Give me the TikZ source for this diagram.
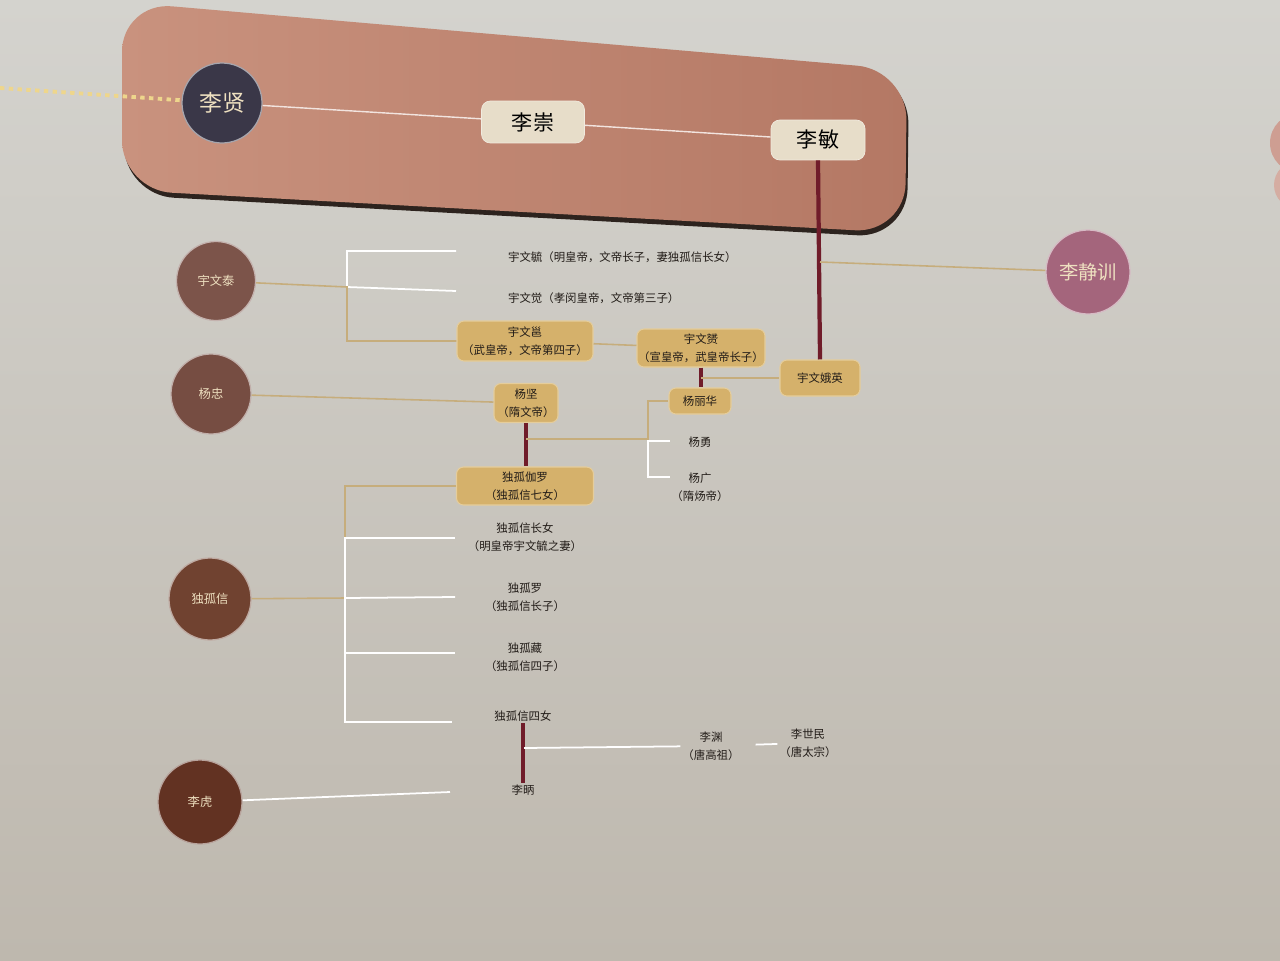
\documentclass[tikz,border=0pt]{standalone}
\usepackage{fontspec}
\setmainfont{Noto Sans CJK SC}
\definecolor{walltop}{RGB}{212,211,206}
\definecolor{wallmid}{RGB}{227,224,217}
\definecolor{wallbot}{RGB}{190,184,174}
\definecolor{bannerl}{RGB}{201,146,126}
\definecolor{bannerr}{RGB}{180,120,100}
\definecolor{shadowcol}{RGB}{45,35,30}
\definecolor{creamcol}{RGB}{231,221,201}
\definecolor{goldcol}{RGB}{213,177,107}
\definecolor{goldedge}{RGB}{229,205,155}
\definecolor{bloodcol}{RGB}{112,28,42}
\definecolor{tancol}{RGB}{198,173,124}
\definecolor{inkcol}{RGB}{34,28,24}
\definecolor{namecol}{RGB}{238,224,192}
\definecolor{lixiancol}{RGB}{58,55,72}
\definecolor{jxcol}{RGB}{164,101,124}
\definecolor{taicol}{RGB}{124,84,74}
\definecolor{zhongcol}{RGB}{118,77,66}
\definecolor{xincol}{RGB}{112,66,48}
\definecolor{hucol}{RGB}{98,50,34}
\definecolor{dotcol}{RGB}{238,214,140}
\definecolor{edgecol}{RGB}{206,158,146}
\usepackage{tikz}
\usetikzlibrary{positioning, calc}

\begin{document}
\begin{tikzpicture}[
  x=0.02cm, y=-0.02cm,
  person/.style={circle, inner sep=0pt, minimum size=1.58cm, fill=#1,
                 draw=white!55!#1, line width=0.7pt, text=namecol,
                 font=\fontsize{7}{8}\selectfont},
  creambox/.style={rectangle, rounded corners=5pt, fill=creamcol,
                   draw=white!40!creamcol, text=black, inner sep=0pt,
                   font=\fontsize{12}{13}\selectfont},
  goldbox/.style={rectangle, rounded corners=4pt, fill=goldcol, draw=goldedge,
                  line width=0.6pt, align=center, inner sep=0pt, text=inkcol,
                  font=\fontsize{6.5}{10}\selectfont},
  plain/.style={align=center, inner sep=1pt, text=inkcol,
                font=\fontsize{6.5}{10}\selectfont},
  tanline/.style={draw=tancol, line width=0.9pt},
  whiteline/.style={draw=white, line width=1pt},
  redline/.style={draw=bloodcol, line width=2.4pt},
  pinkline/.style={draw=white!75!bannerl, line width=0.8pt}
]
\clip (0,0) rectangle (1280,960);
\shade[top color=walltop, middle color=wallmid, bottom color=wallbot]
  (0,0) rectangle (1280,960);

% banner with the Li line
\fill[shadowcol, rounded corners=1cm] (124,7) -- (909,74) -- (907,238) -- (124,195) -- cycle;
\shade[left color=bannerl, right color=bannerr, rounded corners=1cm]
  (122,2) -- (907,70) -- (905,233) -- (122,190) -- cycle;
\fill[edgecol] (1300,143) circle (30);
\fill[edgecol!85!white] (1298,185) circle (24);

\node[person=lixiancol, minimum size=1.6cm, font=\fontsize{13}{14}\selectfont] (lixian) at (222,103) {李贤};
\node[creambox, minimum width=2.06cm, minimum height=0.84cm] (lichong) at (533,122) {李崇};
\node[creambox, minimum width=1.88cm, minimum height=0.8cm] (limin) at (818,140) {李敏};
\node[person=jxcol, minimum size=1.68cm, font=\fontsize{11}{12}\selectfont] (lijingxun) at (1088,272) {李静训};

\coordinate (dotstart) at (0,88);
\draw[dotcol, line width=2.2pt, dash pattern=on 2.5pt off 2.5pt] (dotstart) -- (lixian);
\draw[pinkline] (lixian) -- (lichong);
\draw[pinkline] (lichong) -- (limin);

% Yuwen family
\node[person=taicol] (yuwentai) at (216,281) {宇文泰};
\node[plain, anchor=west] (yuwenyu) at (506,257) {宇文毓（明皇帝，文帝长子，妻独孤信长女）};
\node[plain, anchor=west] (yuwenjue) at (506,298) {宇文觉（孝闵皇帝，文帝第三子）};
\node[goldbox, minimum width=2.72cm, minimum height=0.8cm] (yuwenyong) at (525,341) {宇文邕\\（武皇帝，文帝第四子）};
\node[goldbox, minimum width=2.56cm, minimum height=0.76cm] (yuwenyun) at (701,348) {宇文赟\\（宣皇帝，武皇帝长子）};
\node[goldbox, minimum width=1.6cm, minimum height=0.72cm] (yuwenee) at (820,378) {宇文娥英};
\node[goldbox, minimum width=1.24cm, minimum height=0.52cm] (yanglihua) at (700,401) {杨丽华};

\coordinate (ytj) at (347,287);
\coordinate (ytw1) at (456,251);
\coordinate (ytw2) at (456,291);
\draw[whiteline] (ytw1) -- (ytj |- ytw1) -- (ytj) -- (ytw2);
\draw[tanline] (yuwentai) -- (ytj) -- (ytj |- yuwenyong) -- (yuwenyong);
\draw[tanline] (yuwenyong) -- (yuwenyun);
\draw[redline] (limin.south) -- (yuwenee.north);
\coordinate (jxj) at (820,262);
\draw[tanline] (jxj) -- (lijingxun);
\draw[redline] (yuwenyun.south) -- (yuwenyun.south |- yanglihua.north);
\draw[tanline] (yuwenyun.south |- yuwenee) -- (yuwenee);

% Yang family
\node[person=zhongcol, minimum size=1.6cm] (yangzhong) at (211,394) {杨忠};
\node[goldbox, minimum width=1.28cm, minimum height=0.78cm] (yangjian) at (526,403) {杨坚\\（隋文帝）};
\node[goldbox, minimum width=2.74cm, minimum height=0.76cm] (dugujialuo) at (525,486) {独孤伽罗\\（独孤信七女）};
\node[plain] (yangyong) at (700,442) {杨勇};
\node[plain] (yangguang) at (700,487) {杨广\\（隋炀帝）};

\draw[tanline] (yangzhong) -- (yangjian);
\draw[redline] (yangjian.south) -- (yangjian.south |- dugujialuo.north);
\coordinate (yjj) at (648,439);
\coordinate (yyong) at (670,441);
\coordinate (yguang) at (670,477);
\draw[tanline] (yangjian.south |- yjj) -- (yjj) -- (yjj |- yanglihua) -- (yanglihua);
\draw[whiteline] (yyong) -- (yjj |- yyong) -- (yjj |- yguang) -- (yguang);

% Dugu family
\node[person=xincol, minimum size=1.64cm] (duguxin) at (210,599) {独孤信};
\node[plain] (dgzhangnv) at (525,537) {独孤信长女\\（明皇帝宇文毓之妻）};
\node[plain] (duguluo) at (525,597) {独孤罗\\（独孤信长子）};
\node[plain] (duguzang) at (525,657) {独孤藏\\（独孤信四子）};
\node[plain] (dgsinv) at (523,716) {独孤信四女};

\coordinate (dxj) at (345,598);
\coordinate (dw1) at (455,538);
\coordinate (dw2) at (455,597);
\coordinate (dw3) at (455,653);
\coordinate (dw4) at (452,722);
\draw[tanline] (duguxin) -- (dxj) -- (dxj |- dugujialuo) -- (dugujialuo);
\draw[whiteline] (dw1) -- (dxj |- dw1) -- (dxj |- dw4) -- (dw4);
\draw[whiteline] (dxj) -- (dw2);
\draw[whiteline] (dxj |- dw3) -- (dw3);

% Li Hu line
\node[person=hucol, minimum size=1.68cm] (lihu) at (200,802) {李虎};
\node[plain] (libing) at (523,790) {李昞};
\node[plain] (liyuan) at (711,746) {李渊\\（唐高祖）};
\node[plain] (lishimin) at (808,743) {李世民\\（唐太宗）};

\coordinate (lhe) at (450,792);
\draw[whiteline] (lihu) -- (lhe);
\draw[redline] (dgsinv) -- (libing);
\coordinate (lbj) at (524,748);
\draw[whiteline] (lbj) -- (liyuan);
\draw[whiteline, shorten <=8pt] (liyuan) -- (lishimin);

\end{tikzpicture}
\end{document}
